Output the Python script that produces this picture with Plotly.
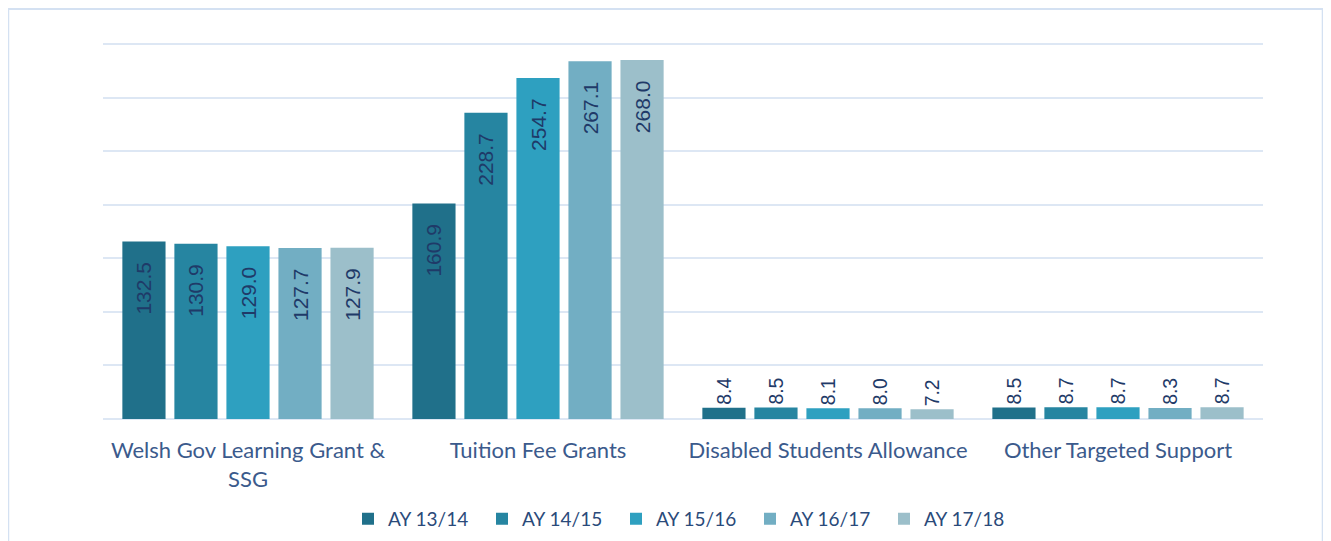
import plotly.graph_objects as go

categories = ["Welsh Gov Learning Grant &<br>SSG", "Tuition Fee Grants",
              "Disabled Students Allowance", "Other Targeted Support"]
series_names = ["AY 13/14", "AY 14/15", "AY 15/16", "AY 16/17", "AY 17/18"]
values = {
    "AY 13/14": [132.5, 160.9, 8.4, 8.5],
    "AY 14/15": [130.9, 228.7, 8.5, 8.7],
    "AY 15/16": [129.0, 254.7, 8.1, 8.7],
    "AY 16/17": [127.7, 267.1, 8.0, 8.3],
    "AY 17/18": [127.9, 268.0, 7.2, 8.7],
}
colors = ["#20708a", "#2685a1", "#2ea0c0", "#72aec3", "#9cbfca"]

fig = go.Figure()
for name, col in zip(series_names, colors):
    vals = values[name]
    fig.add_trace(go.Bar(
        x=categories, y=vals, name=name,
        marker=dict(color=col, line=dict(width=0)),
        text=[f"{v:.1f}" + "\u00a0\u00a0\u00a0" for v in vals],
        textposition="auto", textangle=-90,
        insidetextanchor="end",
        textfont=dict(family="Liberation Sans, Arial", size=21, color="#1f3a68"),
        cliponaxis=False,
    ))

fig.update_layout(
    width=1331, height=541,
    margin=dict(l=95, r=76, t=32, b=129),
    paper_bgcolor="white", plot_bgcolor="white",
    barmode="group", bargap=0.103, bargroupgap=0.17,
    showlegend=True,
    legend=dict(orientation="h", x=0.5, xanchor="center", y=-0.26, yanchor="middle",
                font=dict(family="Lato", size=19, color="#2a4a7a"),
                entrywidth=89, traceorder="normal"),
    yaxis=dict(range=[0, 283], tickvals=[0, 40, 80, 120, 160, 200, 240, 280],
               showticklabels=False, showgrid=True,
               gridcolor="#dde7f4", gridwidth=1.5, zeroline=True,
               zerolinecolor="#dde7f4", zerolinewidth=1.5, showline=False),
    xaxis=dict(showline=False, ticks="", ticklabelstandoff=16,
               tickfont=dict(family="Lato", size=22, color="#3b5a8c")),
    shapes=[dict(type="rect", xref="paper", yref="paper",
                 x0=-0.0819, x1=1.0517, y0=-0.36, y1=1.0825,
                 line=dict(color="#d4e1f2", width=2.5), fillcolor="rgba(0,0,0,0)",
                 layer="below")],
)

fig.write_html("out.html")
